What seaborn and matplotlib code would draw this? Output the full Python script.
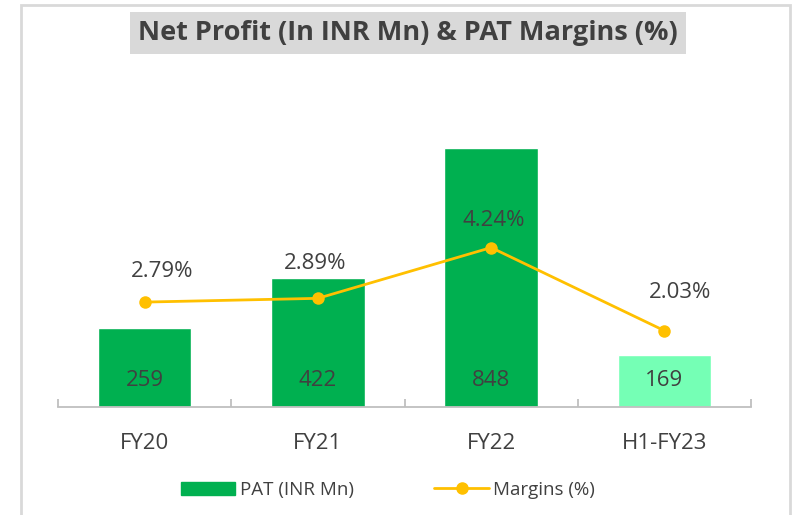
import numpy as np
import pandas as pd
import matplotlib
matplotlib.use("Agg")
import matplotlib.pyplot as plt
import seaborn as sns
from matplotlib.patches import Rectangle, Patch
from matplotlib.lines import Line2D

# data
periods = ["FY20", "FY21", "FY22", "H1-FY23"]
pat = [259, 422, 848, 169]
margins = [2.79, 2.89, 4.24, 2.03]
bar_colors = ["#00B050", "#00B050", "#00B050", "#75FFB5"]

# label nudges (pixels) as placed in the original
lab_dx = [17, -3, 3, 16]
lab_dy = [31, 35, 27, 38]

sns.set_theme(style="white")
plt.rcParams["font.family"] = ["Open Sans", "DejaVu Sans"]
txt = "#404040"

df = pd.DataFrame({"period": periods, "pat": pat, "margin": margins})
df["pos"] = np.arange(len(df))

fig = plt.figure(figsize=(7.95, 5.15), dpi=100)
ax = fig.add_axes([58/795, 108/515, 693/795, 347/515])

sns.barplot(data=df, x="period", y="pat", hue="period", palette=bar_colors,
            width=0.54, legend=False, ax=ax, saturation=1)
ax.set_ylim(0, 347/0.305)
ax.set_xlim(-0.5, 3.5)

for i, v in enumerate(pat):
    ax.text(i, 27/0.305, f"{v}", ha="center", va="center", fontsize=16, color=txt)

ax2 = ax.twinx()
sns.lineplot(data=df, x="pos", y="margin", color="#FFC000", lw=2, marker="o",
             markersize=9, markeredgewidth=0, ax=ax2)
ax2.set_ylim(0, 347/37.6)
ax2.set_xlim(-0.5, 3.5)
for i, m in enumerate(margins):
    ax2.annotate(f"{m:.2f}%", (i, m), xytext=(lab_dx[i], lab_dy[i]), textcoords="offset pixels",
                 ha="center", va="center", fontsize=16, color=txt)

for a in (ax, ax2):
    for s in ["top", "right", "left"]:
        a.spines[s].set_visible(False)
    a.set_yticks([])
    a.set_ylabel("")
    a.set_xlabel("")
ax2.spines["bottom"].set_visible(False)
ax2.set_xticks([])
ax.spines["bottom"].set_color("#BFBFBF")
ax.spines["bottom"].set_linewidth(1.3)

ax.set_xticks(np.arange(-0.5, 4, 1))
ax.set_xticklabels([])
ax.tick_params(axis="x", which="major", direction="in", length=6, color="#BFBFBF", width=1.3, bottom=True)
ax.set_xticks(np.arange(4), minor=True)
ax.set_xticklabels(periods, minor=True, fontsize=16, color=txt)
ax.tick_params(axis="x", which="minor", length=0, pad=19)

# legend
handles = [Patch(color="#00B050", label="PAT (INR Mn)"),
           Line2D([], [], color="#FFC000", lw=2, marker="o", markersize=8, label="Margins (%)")]
fig.legend(handles=handles, loc="center", bbox_to_anchor=(388/795, 1 - 490/515), ncol=2,
           frameon=False, fontsize=13.5, handlelength=2.9, handleheight=0.75, handletextpad=0.25,
           columnspacing=4.3, labelcolor=txt)

# outer frame and title box
fig.add_artist(Rectangle((21/795, -0.05), (790-21)/795, 1.05 - 5/515, transform=fig.transFigure,
                         fill=False, edgecolor="#D9D9D9", lw=2))
fig.text(408/795, 1 - 33/515, "Net Profit (In INR Mn) & PAT Margins (%)", ha="center", va="center",
         fontsize=19.5, fontweight="bold", color=txt,
         bbox=dict(boxstyle="square,pad=0.3", facecolor="#D9D9D9", edgecolor="none"))

fig.savefig("out.png", dpi=100)
